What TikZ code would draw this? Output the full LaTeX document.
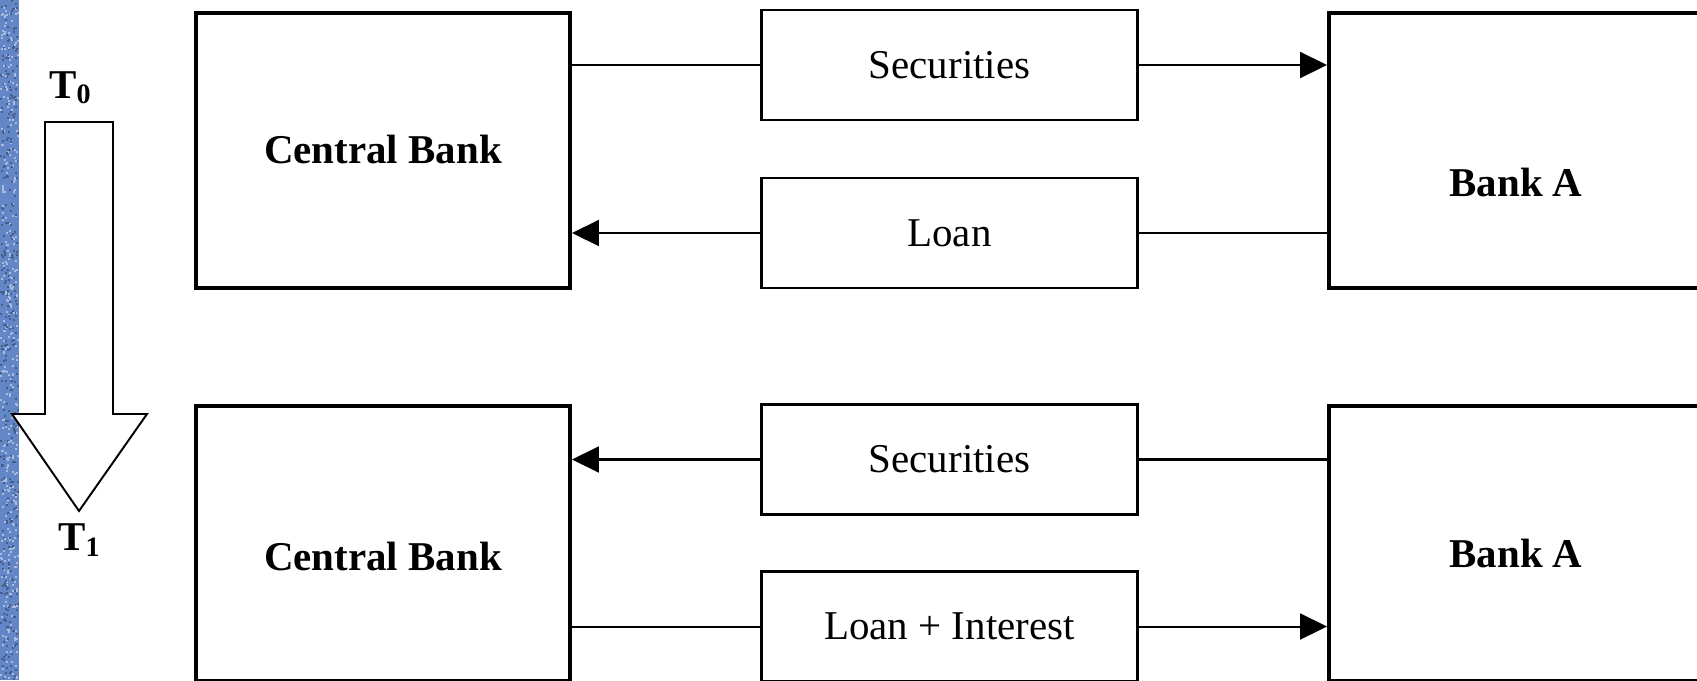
\documentclass[tikz,border=0pt]{standalone}
\usepackage{fontspec}
\setmainfont{Liberation Serif}
\usetikzlibrary{arrows.meta,positioning,calc}
\definecolor{stripblue}{RGB}{98,134,198}

\begin{document}
\begin{tikzpicture}[x=0.02cm,y=-0.02cm]
    \tikzstyle{every node} = [font=\fontsize{23.3}{28}\selectfont]
    \tikzstyle{bank} = [draw, rectangle, line width=2.3pt, minimum width=7.48cm, minimum height=5.5cm, inner sep=0pt]
    \tikzstyle{asset} = [draw, rectangle, line width=1.5pt, minimum width=7.52cm, minimum height=2.2cm, inner sep=0pt]
    \tikzstyle{title} = [font=\fontsize{23.3}{28}\selectfont\bfseries]
    \tikzstyle{flow} = [line width=1.15pt, >={Triangle[length=0.54cm,width=0.52cm]}]

    \useasboundingbox (0,0) rectangle (1697,680);
    \clip (0,0) rectangle (1697,680);

    % textured strip on the left
    \fill[stripblue] (0,0) rectangle (19,680);
    \pgfmathsetseed{7}
    \foreach \i in {1,...,350}{
      \fill[stripblue!55!white] (rnd*17,rnd*678) rectangle ++(2,2);
      \fill[stripblue!70!black] (rnd*17,rnd*678) rectangle ++(2,2);
    }

    % time arrow
    \draw[line width=1.1pt, fill=white] (45,122) -- (113,122) -- (113,414) -- (147,414)
      -- (79,511) -- (12,414) -- (45,414) -- cycle;
    \node[title] (t0) at (70,88) {T\raisebox{-3pt}{\fontsize{16}{16}\selectfont 0}};
    \node[title] (t1) at (79,540) {T\raisebox{-3pt}{\fontsize{16}{16}\selectfont 1}};

    % place nodes
    \node[bank, label={[title, yshift=0.03cm]center:Central Bank}] (cb1) at (383,150.5) {};
    \node[bank, label={[title, yshift=-0.64cm]center:Bank A}] (ba1) at (1516,150.5) {};
    \node[bank, label={[title, yshift=-0.25cm]center:Central Bank}] (cb2) at (383,543.5) {};
    \node[bank, label={[title, yshift=-0.19cm]center:Bank A}] (ba2) at (1516,543.5) {};

    \node[asset] (sec1) at (949.5,65) {Securities};
    \node[asset] (loan1) at (949.5,233) {Loan};
    \node[asset] (sec2) at (949.5,459.5) {Securities};
    \node[asset] (li2) at (949.5,626.5) {Loan + Interest};

    % Connections
    \draw[flow] (sec1.west) -- (sec1.west -| cb1.east);
    \draw[flow,->] (sec1.east) -- (sec1.east -| ba1.west);
    \draw[flow] (loan1.east) -- (loan1.east -| ba1.west);
    \draw[flow,->] (loan1.west) -- (loan1.west -| cb1.east);

    \draw[flow] (sec2.east) -- (sec2.east -| ba2.west);
    \draw[flow,->] (sec2.west) -- (sec2.west -| cb2.east);
    \draw[flow] (li2.west) -- (li2.west -| cb2.east);
    \draw[flow,->] (li2.east) -- (li2.east -| ba2.west);

\end{tikzpicture}
\end{document}
